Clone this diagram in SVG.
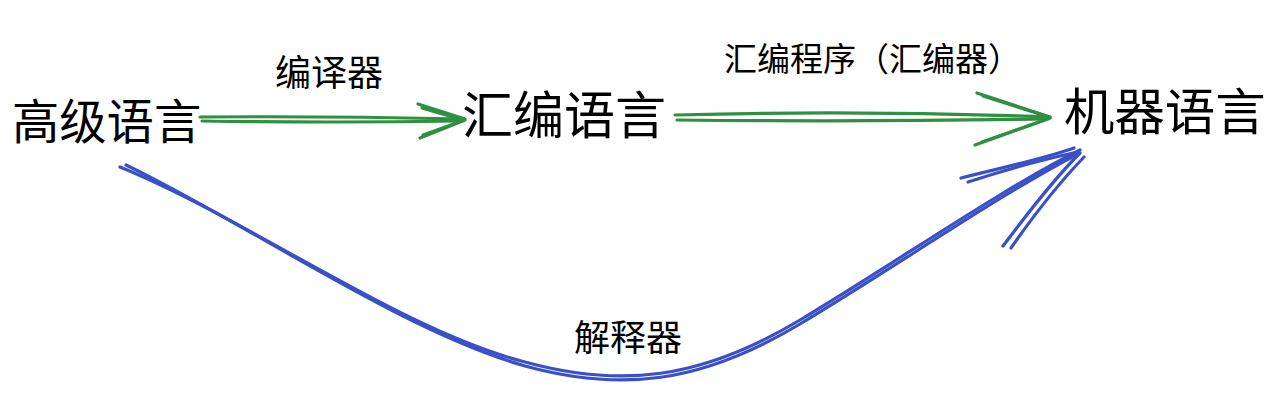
<svg xmlns="http://www.w3.org/2000/svg" width="1282" height="410" viewBox="0 0 1282 410">
<style>
.node{font-family:"Noto Sans CJK SC","Noto Sans",sans-serif;fill:#000}
.lbl{font-family:"Noto Sans CJK SC","Noto Sans",sans-serif;fill:#000}
.g{fill:none;stroke:#2f9040;stroke-width:3.2;stroke-linecap:round;stroke-linejoin:round}
.b{fill:none;stroke:#3a50c8;stroke-width:3.2;stroke-linecap:round;stroke-linejoin:round}
</style>
<rect width="1282" height="410" fill="#fff"/>
<g id="connectors">
  <g id="c1">
    <path class="g" d="M200 117 Q330 116 463 119"/>
    <path class="g" d="M202 121 Q330 123 462 121"/>
    <path class="g" d="M418 104 L465 119"/>
    <path class="g" d="M422 108 L463 120"/>
    <path class="g" d="M420 138 L465 120"/>
    <path class="g" d="M423 135 L462 121"/>
  </g>
  <g id="c2">
    <path class="g" d="M675 115 Q860 110 1050 117"/>
    <path class="g" d="M677 120 Q860 122 1048 119"/>
    <path class="g" d="M977 93 L1050 117"/>
    <path class="g" d="M983 96 L1046 116"/>
    <path class="g" d="M975 145 L1050 118"/>
    <path class="g" d="M982 142 L1045 120"/>
  </g>
  <g id="c3">
    <path class="b" d="M120 167 C250 220 400 330 525 362 C620 388 700 380 800 320 C900 260 1000 190 1080 150"/>
    <path class="b" d="M126 165 C250 225 400 330 525 366 C620 392 700 384 800 324 C900 264 1000 194 1078 154"/>
    <path class="b" d="M961 178 C1000 168 1040 160 1074 148"/>
    <path class="b" d="M968 182 C1005 170 1040 160 1078 152"/>
    <path class="b" d="M1003 246 C1030 210 1055 178 1080 153"/>
    <path class="b" d="M1011 248 C1036 212 1060 182 1084 157"/>
  </g>
</g>
<g id="n1"><text class="node" x="12" y="139" font-size="47.3">高级语言</text></g>
<g id="n2"><text class="node" x="462" y="133.5" font-size="51">汇编语言</text></g>
<g id="n3"><text class="node" x="1064" y="129.5" font-size="50.4">机器语言</text></g>
<g id="l1"><text class="lbl" x="275" y="85.5" font-size="36">编译器</text></g>
<g id="l2"><text class="lbl" x="724" y="71" font-size="33">汇编程序（汇编器）</text></g>
<g id="l3"><text class="lbl" x="574" y="350.5" font-size="36">解释器</text></g>
</svg>
